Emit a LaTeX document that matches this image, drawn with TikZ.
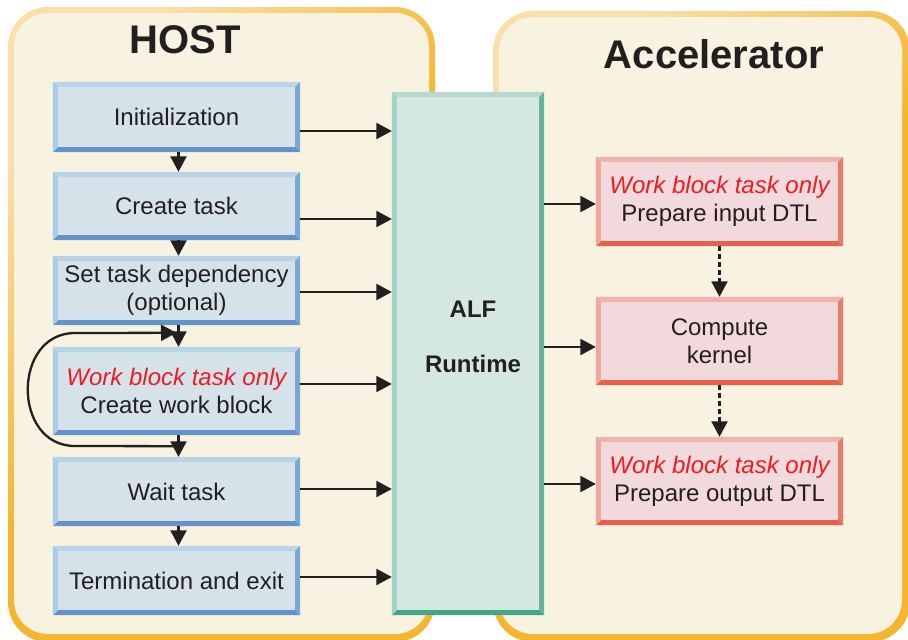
\documentclass[tikz,border=0pt]{standalone}
\usepackage{fontspec}
\setmainfont{Liberation Sans}
\usetikzlibrary{arrows.meta}
\definecolor{panel}{HTML}{F8F2E0}
\definecolor{plight}{HTML}{FADFAA}
\definecolor{porange}{HTML}{F5B52E}
\definecolor{txt}{HTML}{231F20}
\definecolor{redtxt}{HTML}{ED1C24}
\definecolor{bfill}{HTML}{D6E2E9}
\definecolor{btop}{HTML}{B9D3E7}
\definecolor{bleft}{HTML}{A8CCE8}
\definecolor{bright}{HTML}{7BA7D4}
\definecolor{bbot}{HTML}{6393C8}
\definecolor{tfill}{HTML}{D4E7E1}
\definecolor{ttop}{HTML}{B7D8D0}
\definecolor{tleft}{HTML}{A0D3C5}
\definecolor{tright}{HTML}{63B5A0}
\definecolor{tbot}{HTML}{40A687}
\definecolor{rfill}{HTML}{F2D9DB}
\definecolor{rtop}{HTML}{F2B3AD}
\definecolor{rleft}{HTML}{EFA79E}
\definecolor{rright}{HTML}{EA7B6A}
\definecolor{rbot}{HTML}{E8604B}
\newcommand\bevelbox[6]{%
  \fill[#3] (#1.north west) -- (#1.north east) -- ([shift={(-#2,-#2)}]#1.north east) -- ([shift={(#2,-#2)}]#1.north west) -- cycle;
  \fill[#4] (#1.north east) -- (#1.south east) -- ([shift={(-#2,#2)}]#1.south east) -- ([shift={(-#2,-#2)}]#1.north east) -- cycle;
  \fill[#5] (#1.south east) -- (#1.south west) -- ([shift={(#2,#2)}]#1.south west) -- ([shift={(-#2,#2)}]#1.south east) -- cycle;
  \fill[#6] (#1.south west) -- (#1.north west) -- ([shift={(#2,-#2)}]#1.north west) -- ([shift={(#2,#2)}]#1.south west) -- cycle;
}
\newcommand\wbt{{\color{redtxt}\itshape Work block task only}}
\begin{document}
\begin{tikzpicture}[x=1pt,y=-1pt,
  font=\fontsize{24}{28}\selectfont, text=txt,
  hbox/.style={rectangle, inner sep=0pt, fill=bfill, minimum width=247pt, align=center},
  rbox/.style={rectangle, inner sep=0pt, fill=rfill, minimum width=247pt, minimum height=88pt, align=center},
  arr/.style={line width=2.3pt, draw=txt, -{Triangle[length=15.5pt,width=16pt]}},
  darr/.style={arr, dash pattern=on 5pt off 3pt},
  title/.style={font=\fontsize{40}{44}\selectfont\bfseries, anchor=base},
  alftxt/.style={font=\fontsize{24}{28}\selectfont\bfseries, anchor=base}]
\useasboundingbox (0,0) rectangle (908,640);
\begin{scope}
\clip (0,0) rectangle (908,640);
% panels
\shade[top color=plight, bottom color=porange, middle color=porange, shading angle=45, rounded corners=40pt] (8,7) rectangle (435,642);
\fill[panel, rounded corners=34pt] (14,13) rectangle (429,634);
\shade[top color=plight, bottom color=porange, middle color=porange, shading angle=45, rounded corners=40pt] (493,11) rectangle (910,642);
\fill[panel, rounded corners=34pt] (499,17) rectangle (902,634);
\end{scope}
\node[title] (host) at (185.5,53) {HOST};
\node[title] (acc) at (714,68) {Accelerator};
% host boxes
\node[hbox, minimum height=70pt] (init) at (176.5,117) {Initialization};
\node[hbox, minimum height=68pt] (create) at (176.5,206) {Create task};
\node[hbox, minimum height=69pt] (dep) at (176.5,290.5) {Set task dependency\\(optional)};
\node[hbox, minimum height=88pt] (work) at (176.5,391) {\wbt\\Create work block};
\node[hbox, minimum height=69pt] (wait) at (176.5,491.5) {Wait task};
\node[hbox, minimum height=69pt] (term) at (176.5,580.5) {Termination and exit};
\foreach \n in {init,create,dep,work,wait,term}{\bevelbox{\n}{5pt}{btop}{bright}{bbot}{bleft}}
% ALF runtime
\node[rectangle, inner sep=0pt, fill=tfill, minimum width=152pt, minimum height=523pt] (alf) at (468,353.5) {};
\bevelbox{alf}{5pt}{ttop}{tright}{tbot}{tleft}
\node[alftxt] (alf1) at (473,317) {ALF};
\node[alftxt] (alf2) at (473,372) {Runtime};
% accelerator boxes
\node[rbox, minimum height=89pt] (in) at (719.5,201.5) {\wbt\\Prepare input DTL};
\node[rbox] (comp) at (719.5,341) {Compute\\kernel};
\node[rbox] (out) at (719.5,481) {\wbt\\Prepare output DTL};
\foreach \n in {in,comp,out}{\bevelbox{\n}{5pt}{rtop}{rright}{rbot}{rleft}}
% vertical arrows host
\draw[arr] ([xshift=2pt]init.south) -- ([xshift=2pt]create.north);
\draw[arr] ([xshift=2pt]create.south) -- ([xshift=2pt]dep.north);
\draw[arr] ([xshift=2pt]dep.south) -- ([xshift=2pt]work.north);
\draw[arr] ([xshift=2pt]work.south) -- ([xshift=2pt]wait.north);
\draw[arr] ([xshift=2pt]wait.south) -- ([xshift=2pt]term.north);
% loop
\coordinate (lb) at ([xshift=2pt,yshift=-11pt]work.south);
\coordinate (lt) at ([xshift=0pt,yshift=14pt]work.north);
\coordinate (l1) at (75,446);
\coordinate (l2) at (75,333);
\draw[arr] (lb) -- (l1) .. controls (12,446) and (12,333) .. (l2) -- (lt);
% host -> ALF
\coordinate (a1) at ([yshift=-14pt]init.east);
\coordinate (a2) at ([yshift=-13pt]create.east);
\coordinate (a3) at ([yshift=-1.5pt]dep.east);
\coordinate (a4) at ([yshift=7pt]work.east);
\coordinate (a5) at ([yshift=2.5pt]wait.east);
\coordinate (a6) at ([yshift=3.5pt]term.east);
\foreach \c in {a1,a2,a3,a4,a5,a6}{\draw[arr] (\c) -- (\c -| alf.west);}
% ALF -> accelerator
\coordinate (b1) at ([yshift=-2.5pt]in.west);
\coordinate (b2) at ([yshift=-6pt]comp.west);
\coordinate (b3) at ([yshift=-3pt]out.west);
\foreach \c in {b1,b2,b3}{\draw[arr] (\c -| alf.east) -- (\c);}
% dashed
\draw[darr] (in.south) -- (comp.north);
\draw[darr] (comp.south) -- (out.north);
\end{tikzpicture}
\end{document}
